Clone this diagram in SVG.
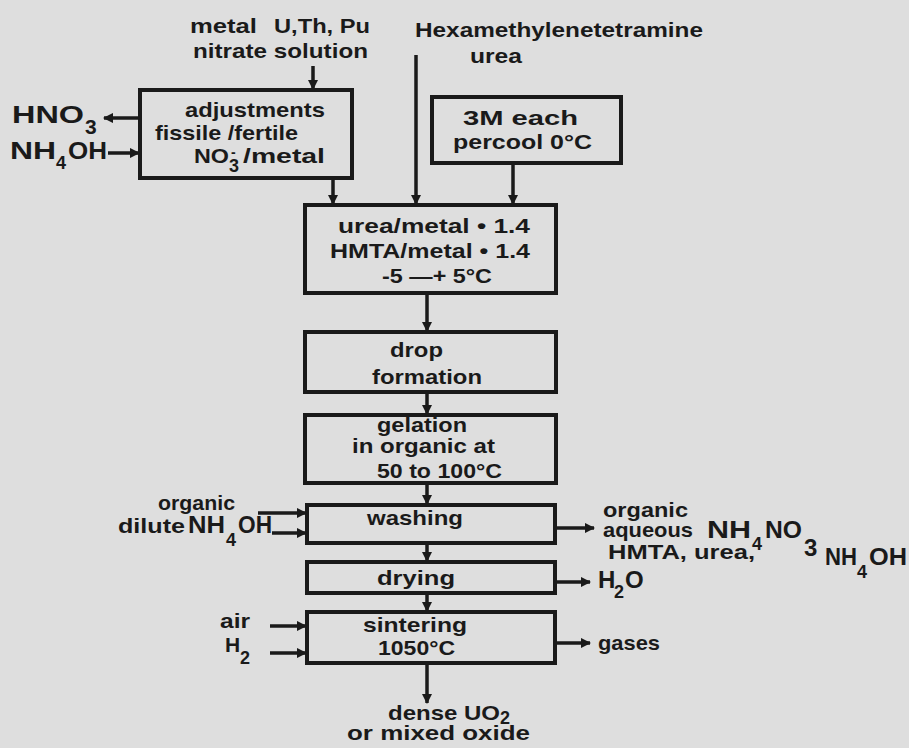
<svg xmlns="http://www.w3.org/2000/svg" width="909" height="748" viewBox="0 0 909 748">
<defs>
<marker id="ah" viewBox="0 0 10 10" refX="9" refY="5" markerWidth="3" markerHeight="3" orient="auto" markerUnits="strokeWidth">
<path d="M0,0 L10,5 L0,10 z" fill="#1a1a1a"/>
</marker>
<style>
.box{fill:none;stroke:#1a1a1a;stroke-width:4}
.ln{fill:none;stroke:#1a1a1a;stroke-width:3.5;marker-end:url(#ah)}
text{font-family:"Liberation Sans",Arial,sans-serif;font-weight:bold;fill:#1a1a1a;font-size:21px}
.b{font-size:24px}
.s{font-size:18px}
</style>
</defs>
<rect width="909" height="748" fill="#dedede"/>
<g id="connectors">
<line class="ln" x1="313" y1="66" x2="313" y2="89"/>
<line class="ln" x1="140" y1="118" x2="104" y2="118"/>
<line class="ln" x1="108" y1="153" x2="139" y2="153"/>
<line class="ln" x1="333" y1="178" x2="333" y2="204"/>
<line class="ln" x1="416" y1="55" x2="416" y2="204"/>
<line class="ln" x1="513" y1="163" x2="513" y2="204"/>
<line class="ln" x1="427" y1="293" x2="427" y2="331"/>
<line class="ln" x1="427" y1="392" x2="427" y2="414"/>
<line class="ln" x1="427" y1="483" x2="427" y2="504"/>
<line class="ln" x1="427" y1="543" x2="427" y2="561"/>
<line class="ln" x1="427" y1="593" x2="427" y2="611"/>
<line class="ln" x1="427" y1="663" x2="427" y2="703"/>
<line class="ln" x1="258" y1="513" x2="306" y2="513"/>
<line class="ln" x1="272" y1="533" x2="306" y2="533"/>
<line class="ln" x1="270" y1="626" x2="306" y2="626"/>
<line class="ln" x1="270" y1="653" x2="306" y2="653"/>
<line class="ln" x1="556" y1="528" x2="594" y2="528"/>
<line class="ln" x1="556" y1="582" x2="590" y2="582"/>
<line class="ln" x1="556" y1="643" x2="590" y2="643"/>
</g>
<g id="feed-metal">
<text x="190" y="33" textLength="67" lengthAdjust="spacingAndGlyphs">metal</text>
<text x="274" y="33" textLength="96" lengthAdjust="spacingAndGlyphs">U,Th, Pu</text>
<text x="193" y="58" textLength="175" lengthAdjust="spacingAndGlyphs">nitrate solution</text>
</g>
<g id="feed-hmta">
<text x="415" y="37" textLength="288" lengthAdjust="spacingAndGlyphs">Hexamethylenetetramine</text>
<text x="470" y="63" textLength="52" lengthAdjust="spacingAndGlyphs">urea</text>
</g>
<g id="hno3">
<text class="b" x="12" y="123" textLength="72" lengthAdjust="spacingAndGlyphs">HNO</text>
<text x="85" y="134" font-size="17">3</text>
</g>
<g id="nh4oh">
<text class="b" x="10" y="159" textLength="46" lengthAdjust="spacingAndGlyphs">NH</text>
<text class="s" x="56" y="169">4</text>
<text class="b" x="68" y="159" textLength="39" lengthAdjust="spacingAndGlyphs">OH</text>
</g>
<g id="adjustments">
<rect class="box" x="140" y="90" width="212" height="88"/>
<text x="185" y="117" textLength="140" lengthAdjust="spacingAndGlyphs">adjustments</text>
<text x="155" y="140" textLength="143" lengthAdjust="spacingAndGlyphs">fissile /fertile</text>
<text x="194" y="163" textLength="35" lengthAdjust="spacingAndGlyphs">NO</text>
<text class="s" x="229" y="172">3<tspan x="231" y="157" font-size="14">-</tspan></text>
<text x="243" y="163" textLength="82" lengthAdjust="spacingAndGlyphs">/metal</text>
</g>
<g id="percool">
<rect class="box" x="432" y="97" width="189" height="66"/>
<text x="463" y="125" textLength="115" lengthAdjust="spacingAndGlyphs">3M  each</text>
<text x="453" y="149" textLength="139" lengthAdjust="spacingAndGlyphs">percool 0°C</text>
</g>
<g id="mixing">
<rect class="box" x="305" y="205" width="251" height="88"/>
<text x="338" y="233" textLength="192" lengthAdjust="spacingAndGlyphs">urea/metal • 1.4</text>
<text x="330" y="258" textLength="200" lengthAdjust="spacingAndGlyphs">HMTA/metal • 1.4</text>
<text x="382" y="283" textLength="110" lengthAdjust="spacingAndGlyphs">-5 —+ 5°C</text>
</g>
<g id="drop">
<rect class="box" x="305" y="332" width="251" height="60"/>
<text x="390" y="357" textLength="53" lengthAdjust="spacingAndGlyphs">drop</text>
<text x="372" y="384" textLength="110" lengthAdjust="spacingAndGlyphs">formation</text>
</g>
<g id="gelation">
<rect class="box" x="305" y="415" width="251" height="68"/>
<text x="377" y="432" textLength="90" lengthAdjust="spacingAndGlyphs">gelation</text>
<text x="352" y="453" textLength="143" lengthAdjust="spacingAndGlyphs">in organic at</text>
<text x="377" y="478" textLength="125" lengthAdjust="spacingAndGlyphs">50 to 100°C</text>
</g>
<g id="washing">
<rect class="box" x="307" y="505" width="248" height="38"/>
<text x="367" y="525" textLength="96" lengthAdjust="spacingAndGlyphs">washing</text>
</g>
<g id="drying">
<rect class="box" x="307" y="562" width="248" height="31"/>
<text x="377" y="585" textLength="78" lengthAdjust="spacingAndGlyphs">drying</text>
</g>
<g id="sintering">
<rect class="box" x="307" y="612" width="248" height="51"/>
<text x="363" y="632" textLength="104" lengthAdjust="spacingAndGlyphs">sintering</text>
<text x="378" y="655" textLength="77" lengthAdjust="spacingAndGlyphs">1050°C</text>
</g>
<g id="in-wash">
<text x="158" y="510" textLength="77" lengthAdjust="spacingAndGlyphs">organic</text>
<text x="118" y="533" textLength="67" lengthAdjust="spacingAndGlyphs">dilute</text>
<text class="b" x="188" y="533" textLength="37" lengthAdjust="spacingAndGlyphs">NH</text>
<text class="s" x="226" y="546">4</text>
<text class="b" x="238" y="533" textLength="34" lengthAdjust="spacingAndGlyphs">OH</text>
</g>
<g id="in-sinter">
<text x="220" y="628" textLength="30" lengthAdjust="spacingAndGlyphs">air</text>
<text x="225" y="652">H</text>
<text class="s" x="240" y="664">2</text>
</g>
<g id="product">
<text x="388" y="720" textLength="112" lengthAdjust="spacingAndGlyphs">dense UO</text>
<text class="s" x="500" y="724">2</text>
<text x="347" y="740" textLength="183" lengthAdjust="spacingAndGlyphs">or mixed oxide</text>
</g>
<g id="out-wash">
<text x="603" y="517" textLength="85" lengthAdjust="spacingAndGlyphs">organic</text>
<text x="603" y="537" textLength="90" lengthAdjust="spacingAndGlyphs">aqueous</text>
<text class="b" x="707" y="538" textLength="44" lengthAdjust="spacingAndGlyphs">NH</text>
<text class="s" x="752" y="550">4</text>
<text class="b" x="765" y="538" textLength="37" lengthAdjust="spacingAndGlyphs">NO</text>
<text class="b" x="804" y="556">3</text>
<text x="608" y="559" textLength="147" lengthAdjust="spacingAndGlyphs">HMTA, urea,</text>
<text class="b" x="825" y="565" textLength="32" lengthAdjust="spacingAndGlyphs">NH</text>
<text class="s" x="857" y="578">4</text>
<text class="b" x="869" y="565" textLength="38" lengthAdjust="spacingAndGlyphs">OH</text>
</g>
<g id="out-dry">
<text class="b" x="598" y="588">H</text>
<text class="s" x="614" y="598">2</text>
<text class="b" x="625" y="588">O</text>
</g>
<g id="out-sinter"><text x="598" y="650" textLength="62" lengthAdjust="spacingAndGlyphs">gases</text></g>
</svg>
